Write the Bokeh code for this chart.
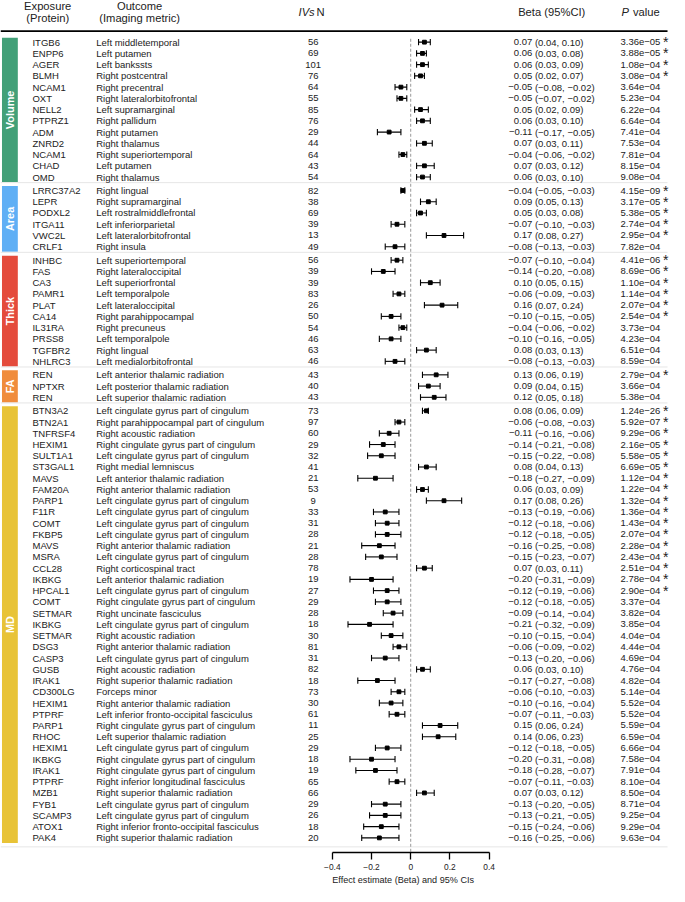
import numpy as np
from bokeh.plotting import figure
from bokeh.models import Range1d, FixedTicker, ColumnDataSource, Title
from bokeh.core.properties import value
from bokeh.embed import file_html
from bokeh.resources import INLINE

# ---------------- data ----------------
group_names = ["Volume", "Area", "Thick", "FA", "MD"]
group_colors = ["#42A078", "#5FAFF5", "#E44B3C", "#F08C3C", "#E8C337"]
group_sizes = [13, 6, 10, 3, 39]

exposure = [
    "ITGB6", "ENPP6", "AGER", "BLMH", "NCAM1", "OXT", "NELL2", "PTPRZ1", "ADM", "ZNRD2", "NCAM1", "CHAD", "OMD",
    "LRRC37A2", "LEPR", "PODXL2", "ITGA11", "VWC2L", "CRLF1",
    "INHBC", "FAS", "CA3", "PAMR1", "PLAT", "CA14", "IL31RA", "PRSS8", "TGFBR2", "NHLRC3",
    "REN", "NPTXR", "REN",
    "BTN3A2", "BTN2A1", "TNFRSF4", "HEXIM1", "SULT1A1", "ST3GAL1", "MAVS", "FAM20A", "PARP1", "F11R",
    "COMT", "FKBP5", "MAVS", "MSRA", "CCL28", "IKBKG", "HPCAL1", "COMT", "SETMAR", "IKBKG",
    "SETMAR", "DSG3", "CASP3", "GUSB", "IRAK1", "CD300LG", "HEXIM1", "PTPRF", "PARP1", "RHOC",
    "HEXIM1", "IKBKG", "IRAK1", "PTPRF", "MZB1", "FYB1", "SCAMP3", "ATOX1", "PAK4",
]
CG = "cingulate gyrus part of cingulum"
outcome = [
    "Left middletemporal", "Left putamen", "Left bankssts", "Right postcentral", "Right precentral",
    "Right lateralorbitofrontal", "Left supramarginal", "Right pallidum", "Right putamen", "Right thalamus",
    "Right superiortemporal", "Left putamen", "Right thalamus",
    "Right lingual", "Right supramarginal", "Left rostralmiddlefrontal", "Left inferiorparietal",
    "Left lateralorbitofrontal", "Right insula",
    "Left superiortemporal", "Right lateraloccipital", "Left superiorfrontal", "Left temporalpole",
    "Left lateraloccipital", "Right parahippocampal", "Right precuneus", "Left temporalpole",
    "Right lingual", "Left medialorbitofrontal",
    "Left anterior thalamic radiation", "Left posterior thalamic radiation", "Left superior thalamic radiation",
    "Left " + CG, "Right parahippocampal part of cingulum", "Right acoustic radiation", "Right " + CG,
    "Left " + CG, "Right medial lemniscus", "Left anterior thalamic radiation", "Right anterior thalamic radiation",
    "Left " + CG, "Left " + CG, "Left " + CG, "Left " + CG, "Right anterior thalamic radiation",
    "Left " + CG, "Right corticospinal tract", "Left anterior thalamic radiation", "Left " + CG,
    "Right " + CG, "Right uncinate fasciculus", "Left " + CG, "Right acoustic radiation",
    "Right anterior thalamic radiation", "Left " + CG, "Right acoustic radiation",
    "Right superior thalamic radiation", "Forceps minor", "Right anterior thalamic radiation",
    "Left inferior fronto-occipital fasciculus", "Right " + CG, "Left superior thalamic radiation",
    "Left " + CG, "Right " + CG, "Right " + CG, "Right inferior longitudinal fasciculus",
    "Right superior thalamic radiation", "Left " + CG, "Left " + CG,
    "Right inferior fronto-occipital fasciculus", "Right superior thalamic radiation",
]
ivs = [
    56, 69, 101, 76, 64, 55, 85, 76, 29, 44, 64, 43, 54,
    82, 38, 69, 39, 13, 49,
    56, 39, 39, 83, 26, 50, 54, 46, 63, 46,
    43, 40, 43,
    73, 97, 60, 29, 32, 41, 21, 53, 9, 33, 31, 28, 21, 28, 78, 19, 27, 29, 28, 18,
    30, 81, 31, 82, 18, 73, 30, 61, 11, 25, 29, 18, 19, 65, 66, 29, 26, 18, 20,
]
beta = [
    0.07, 0.06, 0.06, 0.05, -0.05, -0.05, 0.05, 0.06, -0.11, 0.07, -0.04, 0.07, 0.06,
    -0.04, 0.09, 0.05, -0.07, 0.17, -0.08,
    -0.07, -0.14, 0.10, -0.06, 0.16, -0.10, -0.04, -0.10, 0.08, -0.08,
    0.13, 0.09, 0.12,
    0.08, -0.06, -0.11, -0.14, -0.15, 0.08, -0.18, 0.06, 0.17, -0.13, -0.12, -0.12, -0.16, -0.15,
    0.07, -0.20, -0.12, -0.12, -0.09, -0.21, -0.10, -0.06, -0.13, 0.06, -0.17, -0.06, -0.10, -0.07,
    0.15, 0.14, -0.12, -0.20, -0.18, -0.07, 0.07, -0.13, -0.13, -0.15, -0.16,
]
ci_low = [
    0.04, 0.03, 0.03, 0.02, -0.08, -0.07, 0.02, 0.03, -0.17, 0.03, -0.06, 0.03, 0.03,
    -0.05, 0.05, 0.03, -0.10, 0.08, -0.13,
    -0.10, -0.20, 0.05, -0.09, 0.07, -0.15, -0.06, -0.16, 0.03, -0.13,
    0.06, 0.04, 0.05,
    0.06, -0.08, -0.16, -0.21, -0.22, 0.04, -0.27, 0.03, 0.08, -0.19, -0.18, -0.18, -0.25, -0.23,
    0.03, -0.31, -0.19, -0.18, -0.14, -0.32, -0.15, -0.09, -0.20, 0.03, -0.27, -0.10, -0.16, -0.11,
    0.06, 0.06, -0.18, -0.31, -0.28, -0.11, 0.03, -0.20, -0.21, -0.24, -0.25,
]
ci_high = [
    0.10, 0.08, 0.09, 0.07, -0.02, -0.02, 0.09, 0.10, -0.05, 0.11, -0.02, 0.12, 0.10,
    -0.03, 0.13, 0.08, -0.03, 0.27, -0.03,
    -0.04, -0.08, 0.15, -0.03, 0.24, -0.05, -0.02, -0.05, 0.13, -0.03,
    0.19, 0.15, 0.18,
    0.09, -0.03, -0.06, -0.08, -0.08, 0.13, -0.09, 0.09, 0.26, -0.06, -0.06, -0.05, -0.08, -0.07,
    0.11, -0.09, -0.06, -0.05, -0.04, -0.09, -0.04, -0.02, -0.06, 0.10, -0.08, -0.03, -0.04, -0.03,
    0.24, 0.23, -0.05, -0.08, -0.07, -0.03, 0.12, -0.05, -0.05, -0.06, -0.06,
]
p_value = [
    3.36e-05, 3.88e-05, 1.08e-04, 3.08e-04, 3.64e-04, 5.23e-04, 6.22e-04, 6.64e-04, 7.41e-04, 7.53e-04,
    7.81e-04, 8.15e-04, 9.08e-04,
    4.15e-09, 3.17e-05, 5.38e-05, 2.74e-04, 2.95e-04, 7.82e-04,
    4.41e-06, 8.69e-06, 1.10e-04, 1.14e-04, 2.07e-04, 2.54e-04, 3.73e-04, 4.23e-04, 6.51e-04, 8.59e-04,
    2.79e-04, 3.66e-04, 5.38e-04,
    1.24e-26, 5.92e-07, 9.29e-06, 2.16e-05, 5.58e-05, 6.69e-05, 1.12e-04, 1.22e-04, 1.32e-04, 1.36e-04,
    1.43e-04, 2.07e-04, 2.28e-04, 2.43e-04, 2.51e-04, 2.78e-04, 2.90e-04, 3.37e-04, 3.82e-04, 3.85e-04,
    4.04e-04, 4.44e-04, 4.69e-04, 4.76e-04, 4.82e-04, 5.14e-04, 5.52e-04, 5.52e-04, 5.59e-04, 6.59e-04,
    6.66e-04, 7.58e-04, 7.91e-04, 8.10e-04, 8.50e-04, 8.71e-04, 9.25e-04, 9.29e-04, 9.63e-04,
]
significant = (
    [True] * 4 + [False] * 9
    + [True] * 5 + [False]
    + [True] * 6 + [False] * 4
    + [True] + [False] * 2
    + [True] * 17 + [False] * 22
)
tick_values = [-0.4, -0.2, 0.0, 0.2, 0.4]
tick_labels = ["\u22120.4", "\u22120.2", "0", "0.2", "0.4"]
axis_title = "Effect estimate (Beta) and 95% CIs"

# ---------------- layout helpers ----------------
FONT = "Liberation Sans"
TXT = "#222222"
GAP = 0.2  # extra row units between groups

group_idx = []
for g, n in enumerate(group_sizes):
    group_idx += [g] * n
ypos = [-(i + GAP * g) for i, g in enumerate(group_idx)]


def fnum(v):
    return f"{v:.2f}".replace("-", "\u2212")


def fp(v):
    return f"{v:.2e}".replace("-", "\u2212")


est_txt = [fnum(b) for b in beta]
ci_txt = [f"({fnum(l)}, {fnum(h)})" for l, h in zip(ci_low, ci_high)]
p_txt = [fp(v) for v in p_value]

src = ColumnDataSource(dict(
    y=ypos, exposure=exposure, outcome=outcome, ivs=[str(v) for v in ivs],
    beta=beta, lo=ci_low, hi=ci_high, est=est_txt, ci=ci_txt, p=p_txt,
    ylo=[y - 0.28 for y in ypos], yhi=[y + 0.28 for y in ypos],
))

# main x range = effect estimate; "px" range is used to place the text columns
p = figure(width=669, height=886, x_range=Range1d(-2.0934, 1.3207), y_range=Range1d(-72.10, 3.707),
           y_axis_type=None, output_backend="svg", toolbar_location=None,
           min_border_left=0, min_border_right=0, min_border_top=0, min_border_bottom=34,
           outline_line_color=None, background_fill_color="white", border_fill_color="white")
p.extra_x_ranges = {"px": Range1d(4, 680)}
p.grid.visible = False
PX = dict(x_range_name="px")

# group bars and separators
tops, bottoms, seps = [], [], []
k = 0
for g, n in enumerate(group_sizes):
    first, last = ypos[k], ypos[k + n - 1]
    tops.append(first + 0.4)
    bottoms.append(last - 0.45)
    seps.append(last - (0.8 if g == len(group_sizes) - 1 else 0.5))
    k += n
p.quad(left=5.5, right=21.5, top=tops, bottom=bottoms, fill_color=group_colors, line_color=None, **PX)
p.text(x=13.8, y=[(a + b) / 2 for a, b in zip(tops, bottoms)], text=group_names, angle=np.pi / 2,
       text_align="center", text_baseline="middle", text_color="white",
       text_font=value(FONT), text_font_style="bold", text_font_size="10.9px", **PX)
p.segment(x0=4, x1=678, y0=seps, y1=seps, line_color="#E6E6E6", line_width=1, **PX)

# header
p.segment(x0=4, x1=678, y0=0.99, y1=0.99, line_color="black", line_width=1.7, **PX)
hdr = dict(text_font=value(FONT), text_font_size="11.2px", text_color=TXT, text_baseline="middle", **PX)
p.text(x=[51.7, 51.7, 144.6, 144.6], y=[3.25, 2.15, 3.25, 2.15],
       text=["Exposure", "(Protein)", "Outcome", "(Imaging metric)"], text_align="center", **hdr)
p.text(x=[321.5], y=[2.72], text=["IVs"], text_align="right", text_font_style="italic", **hdr)
p.text(x=[323.3], y=[2.72], text=["N"], text_align="left", **hdr)
p.text(x=[561], y=[2.68], text=["Beta (95%CI)"], text_align="center", **hdr)
p.text(x=[631.5], y=[2.68], text=["P"], text_align="left", text_font_style="italic", **hdr)
p.text(x=[643], y=[2.68], text=["value"], text_align="left", **hdr)

# row texts
rt = dict(source=src, text_font=value(FONT), text_font_size="9.5px", text_color=TXT,
          text_baseline="middle", **PX)
p.text(x=36.3, y="y", text="exposure", text_align="left", **rt)
p.text(x=100.7, y="y", text="outcome", text_align="left", **rt)
p.text(x=320, y="y", text="ivs", text_align="center", **rt)
p.text(x=541.3, y="y", text="est", text_align="right", **rt)
p.text(x=544, y="y", text="ci", text_align="left", **rt)
p.text(x=630.5, y="y", text="p", text_align="left", **rt)
star_y = [y for y, s in zip(ypos, significant) if s]
p.text(x=673.5, y=star_y, text=["*"] * len(star_y), text_align="left", text_baseline="middle",
       text_font=value(FONT), text_font_size="14px", text_color=TXT, **PX)

# forest
p.segment(x0=0, x1=0, y0=0.3, y1=-72.1, line_color="#999999", line_dash="3 2", line_width=1)
p.segment(x0="lo", x1="hi", y0="y", y1="y", source=src, line_color="black", line_width=1.1)
p.segment(x0="lo", x1="lo", y0="ylo", y1="yhi", source=src, line_color="black", line_width=1.1)
p.segment(x0="hi", x1="hi", y0="ylo", y1="yhi", source=src, line_color="black", line_width=1.1)
p.scatter(x="beta", y="y", source=src, marker="square", size=3.8, fill_color="black", line_color="black")

ax = p.xaxis[0]
ax.ticker = FixedTicker(ticks=tick_values)
ax.bounds = (-0.4, 0.4)
ax.major_label_overrides = {v: l for v, l in zip(tick_values, tick_labels)}
ax.axis_line_color = "black"
ax.axis_line_width = 1.3
ax.major_tick_line_color = "black"
ax.major_tick_line_width = 1.3
ax.major_tick_out = 7
ax.major_tick_in = 0
ax.minor_tick_line_color = None
ax.major_label_standoff = 4
ax.major_label_text_font = FONT
ax.major_label_text_font_size = "8.4px"
ax.major_label_text_color = TXT

# axis title, left-aligned in the bottom panel so it sits under the forest panel
p.add_layout(Title(text=axis_title, align="left", offset=331.7, standoff=0,
                   text_font=FONT, text_font_size="9.1px", text_font_style="normal",
                   text_color=TXT), "below")

open("out.html", "w").write(file_html(p, INLINE))
